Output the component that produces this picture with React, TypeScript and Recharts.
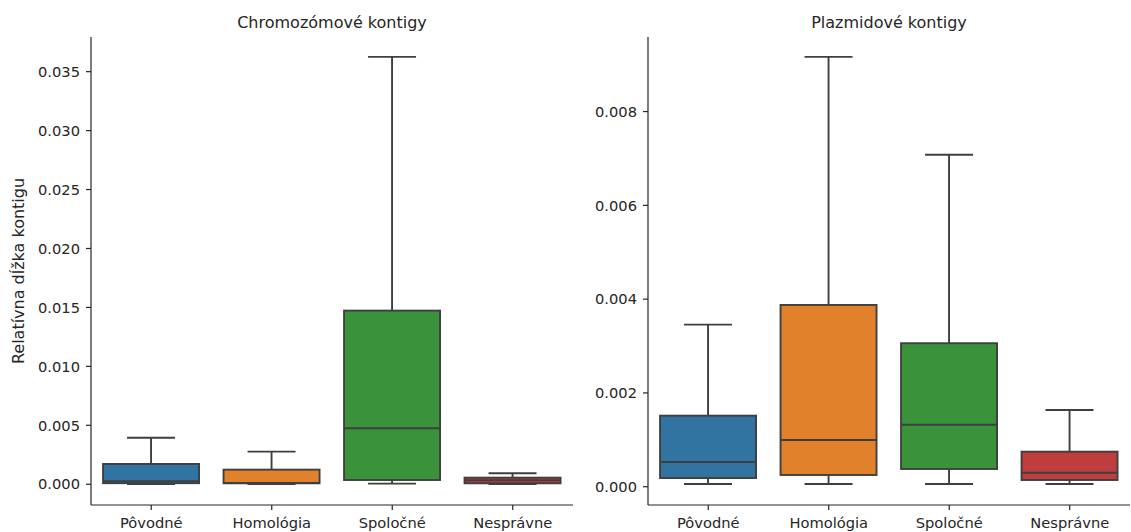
import { ComposedChart, Bar, XAxis, YAxis } from "recharts";

const categories = ["Pôvodné", "Homológia", "Spoločné", "Nesprávne"];
const boxColors = ["#3274a1", "#e1812c", "#3a923a", "#c03d3e"];

// chromozómové kontigy: min, q1, median, q3, max (whisker ends)
const chromMin = [0.00001, 0.00001, 0.00005, 0.00001];
const chromQ1 = [0.00009, 0.00008, 0.00036, 0.00008];
const chromMedian = [0.00026, 0.00012, 0.00475, 0.00034];
const chromQ3 = [0.00172, 0.00124, 0.01473, 0.00056];
const chromMax = [0.00395, 0.00277, 0.03625, 0.00093];

// plazmidové kontigy
const plasMin = [0.000058, 0.000058, 0.000058, 0.000058];
const plasQ1 = [0.000185, 0.00025, 0.000378, 0.000143];
const plasMedian = [0.000527, 0.000996, 0.00132, 0.000299];
const plasQ3 = [0.001515, 0.003876, 0.00306, 0.000747];
const plasMax = [0.003456, 0.009167, 0.00708, 0.001636];

const chromTicks = [0, 0.005, 0.01, 0.015, 0.02, 0.025, 0.03, 0.035];
const plasTicks = [0, 0.002, 0.004, 0.006, 0.008];

const TEXT = "#262626";
const EDGE = "#3f3f3f";

function buildRows(
  min: number[],
  q1: number[],
  med: number[],
  q3: number[],
  max: number[]
) {
  return categories.map((name, i) => ({
    name,
    min: min[i],
    q1: q1[i],
    median: med[i],
    q3: q3[i],
    max: max[i],
    color: boxColors[i],
  }));
}

const chromData = buildRows(chromMin, chromQ1, chromMedian, chromQ3, chromMax);
const plasData = buildRows(plasMin, plasQ1, plasMedian, plasQ3, plasMax);

// the bar spans [min, max]; inner values are placed on the same linear scale
function BoxShape(props: any) {
  const { x, y, width, height, payload } = props;
  if (!payload) return null;
  const top = Math.min(y, y + height);
  const bottom = Math.max(y, y + height);
  const span = payload.max - payload.min;
  const toPx = (v: number) =>
    bottom - ((v - payload.min) / span) * (bottom - top);
  const cx = x + width / 2;
  const cap = width / 4;
  const yMax = toPx(payload.max);
  const yQ3 = toPx(payload.q3);
  const yMed = toPx(payload.median);
  const yQ1 = toPx(payload.q1);
  const yMin = toPx(payload.min);
  return (
    <g stroke={EDGE} strokeWidth={1.9}>
      <line x1={cx} x2={cx} y1={yMax} y2={yQ3} />
      <line x1={cx} x2={cx} y1={yQ1} y2={yMin} />
      <line x1={cx - cap} x2={cx + cap} y1={yMax} y2={yMax} />
      <line x1={cx - cap} x2={cx + cap} y1={yMin} y2={yMin} />
      <rect
        x={x}
        y={yQ3}
        width={width}
        height={Math.max(yQ1 - yQ3, 0.5)}
        fill={payload.color}
      />
      <line x1={x} x2={x + width} y1={yMed} y2={yMed} />
    </g>
  );
}

const tickStyle = { fill: TEXT, fontSize: 14.67 };

function BoxPanel({
  data,
  width,
  yWidth,
  domain,
  ticks,
  yLabel,
  rightMargin,
}: {
  data: any[];
  width: number;
  yWidth: number;
  domain: [number, number];
  ticks: number[];
  yLabel?: string;
  rightMargin: number;
}) {
  return (
    <ComposedChart
      width={width}
      height={532}
      data={data}
      margin={{ top: 37, right: rightMargin, bottom: 0, left: 0 }}
      barCategoryGap="10%"
    >
      <XAxis
        dataKey="name"
        interval={0}
        height={27}
        tick={tickStyle}
        tickSize={5}
        tickMargin={8}
        stroke={TEXT}
        axisLine={{ stroke: TEXT, strokeWidth: 1.2 }}
        tickLine={{ stroke: TEXT, strokeWidth: 1.2 }}
      />
      <YAxis
        type="number"
        width={yWidth}
        domain={domain}
        ticks={ticks}
        allowDataOverflow
        tickFormatter={(v: number) => v.toFixed(3)}
        tick={tickStyle}
        tickSize={5}
        tickMargin={6}
        axisLine={{ stroke: TEXT, strokeWidth: 1.2 }}
        tickLine={{ stroke: TEXT, strokeWidth: 1.2 }}
        label={
          yLabel
            ? {
                value: yLabel,
                angle: -90,
                position: "insideLeft",
                offset: 18,
                style: { textAnchor: "middle", fill: TEXT, fontSize: 16 },
              }
            : undefined
        }
      />
      <Bar
        dataKey={(d: any) => [d.min, d.max]}
        shape={BoxShape}
        isAnimationActive={false}
      />
    </ComposedChart>
  );
}

const titleStyle = {
  position: "absolute" as const,
  top: 14,
  lineHeight: "18px",
  fontSize: 16,
  color: TEXT,
  textAlign: "center" as const,
};

export default function App() {
  return (
    <div
      style={{
        position: "absolute",
        left: 0,
        top: 0,
        width: 1131,
        height: 532,
        background: "#fff",
        fontFamily: "'DejaVu Sans', sans-serif",
        overflow: "hidden",
      }}
    >
      <div style={{ ...titleStyle, left: 91, width: 482 }}>
        Chromozómové kontigy
      </div>
      <div style={{ ...titleStyle, left: 648, width: 482 }}>
        Plazmidové kontigy
      </div>
      <div style={{ position: "absolute", left: 0, top: 0 }}>
        <BoxPanel
          data={chromData}
          width={575}
          yWidth={91}
          domain={[-0.00176, 0.03794]}
          ticks={chromTicks}
          yLabel="Relatívna dĺžka kontigu"
          rightMargin={2}
        />
      </div>
      <div style={{ position: "absolute", left: 573, top: 0 }}>
        <BoxPanel
          data={plasData}
          width={558}
          yWidth={75}
          domain={[-0.00039, 0.00959]}
          ticks={plasTicks}
          rightMargin={1}
        />
      </div>
    </div>
  );
}
